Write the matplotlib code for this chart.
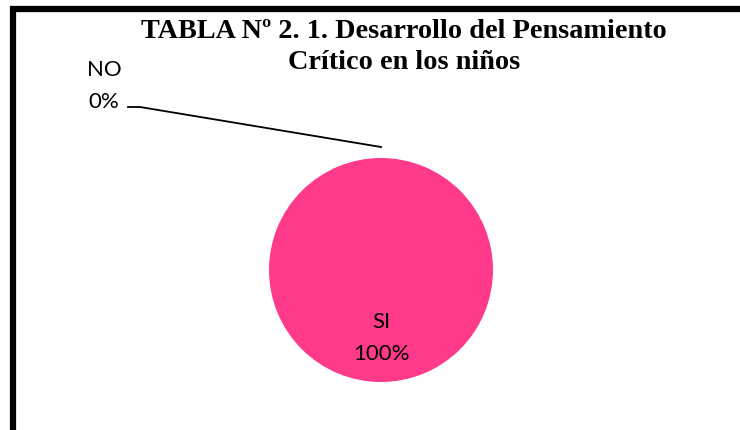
import matplotlib
matplotlib.use("Agg")
import matplotlib.pyplot as plt
from matplotlib.patches import Rectangle

categorias = ["SI", "NO"]
valores = [100, 0]
colores = ["#FF3A8A", "#4F81BD"]
titulo = "TABLA Nº 2. 1. Desarrollo del Pensamiento\nCrítico en los niños"

W, H = 740, 430
fig = plt.figure(figsize=(7.4, 4.3), dpi=100)
ax = fig.add_axes([0, 0, 1, 1])
ax.set_xlim(0, W)
ax.set_ylim(0, H)
ax.set_aspect("equal")
ax.axis("off")

# pie centre / radius in pixel units (y measured from bottom)
cx, cy, r = 381, H - 270, 112
ax.pie(valores, colors=colores, center=(cx, cy), radius=r, startangle=90,
       counterclock=False, wedgeprops=dict(linewidth=0))
ax.set_xlim(0, W)
ax.set_ylim(0, H)

total = sum(valores)
etq = [f"{c}\n{round(v * 100 / total)}%" for c, v in zip(categorias, valores)]

fuente = ["Lato", "DejaVu Sans"]
ax.text(cx, H - 338, etq[0], ha="center", va="center", fontsize=16,
        family=fuente, linespacing=1.8)
ax.text(104, H - 86, etq[1], ha="center", va="center", fontsize=16,
        family=fuente, linespacing=1.8)
# leader line for NO
ax.plot([128, 140, 381], [H - 107, H - 107, H - 147], color="black", lw=1.3)

fig.text(404 / W, 1 - 47 / H, titulo, ha="center", va="center",
         fontsize=20.3, fontweight="bold", family="Liberation Serif",
         linespacing=1.36)

# chart frame (cut off at right and bottom)
fig.patches.append(Rectangle((13 / W, -0.1), 1.2, 1.1 - 9 / H,
                             transform=fig.transFigure, fill=False,
                             edgecolor="black", linewidth=4.5))

fig.savefig("out.png", dpi=100)
